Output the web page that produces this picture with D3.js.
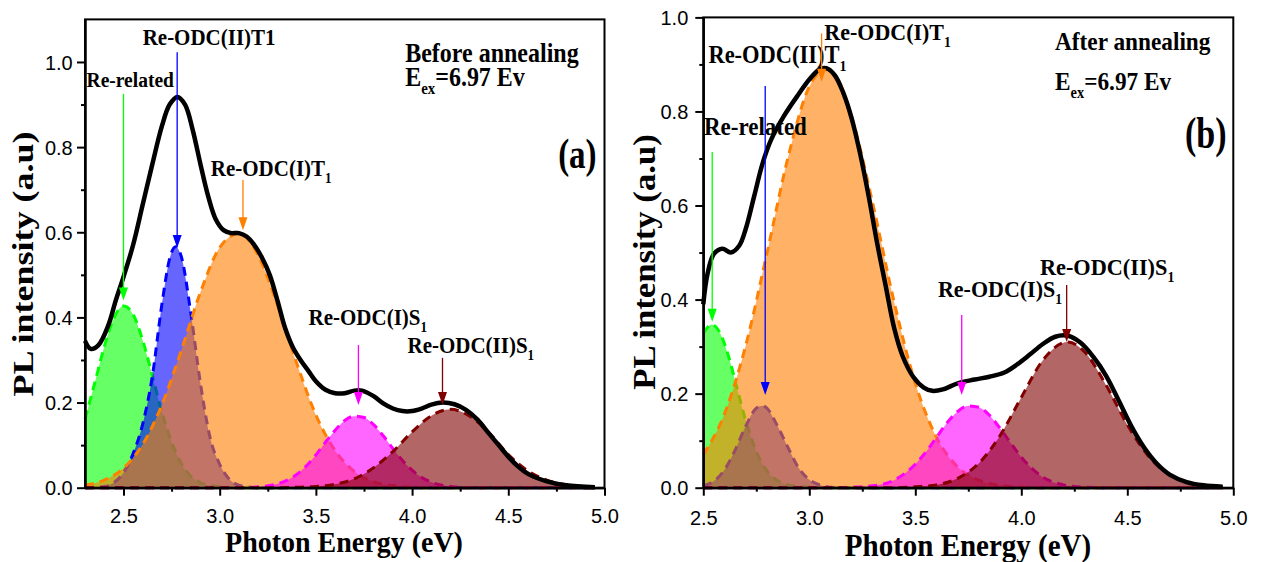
<!DOCTYPE html>
<html>
<head>
<meta charset="utf-8">
<script src="https://cdn.jsdelivr.net/npm/d3@7"></script>
<style>
  body { margin: 0; background: #fff; }
  svg { display: block; }
</style>
</head>
<body>
<svg id="chart" width="1261" height="562"></svg>
<script>
// ---------- Data: fitted PL components, [photon energy (eV), intensity (a.u.)] ----------

// (a) before annealing
const relatedA = [[2.30,0.161],[2.35,0.245],[2.40,0.331],[2.45,0.398],[2.50,0.427],[2.55,0.407],[2.60,0.346],[2.65,0.263],[2.70,0.177],[2.75,0.107],[2.80,0.057],[2.85,0.027],[2.90,0.012],[2.95,0.005],[3.00,0.002],[3.10,0],[4.95,0]];
const odc2T1A = [[2.30,0],[2.40,0.003],[2.45,0.012],[2.50,0.035],[2.55,0.08],[2.60,0.15],[2.65,0.262],[2.70,0.432],[2.74,0.538],[2.77,0.566],[2.80,0.544],[2.85,0.41],[2.90,0.245],[2.95,0.118],[3.00,0.055],[3.05,0.02],[3.10,0.006],[3.20,0],[4.95,0]];
const odc1T1A = [[2.30,0.006],[2.40,0.018],[2.50,0.046],[2.60,0.102],[2.70,0.195],[2.80,0.322],[2.90,0.459],[3.00,0.564],[3.10,0.597],[3.20,0.546],[3.30,0.430],[3.40,0.293],[3.50,0.171],[3.60,0.087],[3.70,0.038],[3.80,0.014],[3.90,0.005],[4.00,0.001],[4.10,0],[4.95,0]];
const odc1S1A = [[2.30,0],[3.10,0],[3.20,0.002],[3.30,0.009],[3.40,0.031],[3.45,0.051],[3.50,0.077],[3.55,0.107],[3.60,0.135],[3.65,0.158],[3.70,0.168],[3.75,0.165],[3.80,0.148],[3.85,0.122],[3.90,0.092],[3.95,0.064],[4.00,0.041],[4.05,0.024],[4.10,0.013],[4.20,0.003],[4.30,0],[4.95,0]];
const odc2S1A = [[2.30,0],[3.30,0],[3.40,0.001],[3.50,0.003],[3.60,0.008],[3.70,0.021],[3.80,0.047],[3.90,0.085],[4.00,0.131],[4.10,0.169],[4.20,0.184],[4.30,0.168],[4.40,0.129],[4.50,0.078],[4.60,0.040],[4.70,0.018],[4.80,0.007],[4.90,0.002],[4.95,0.001]];
const measuredA = [[2.30,0.345],[2.33,0.326],[2.37,0.335],[2.42,0.38],[2.46,0.44],[2.50,0.495],[2.55,0.57],[2.60,0.665],[2.65,0.76],[2.70,0.85],[2.74,0.90],[2.78,0.918],[2.82,0.90],[2.86,0.84],[2.90,0.76],[2.94,0.685],[2.98,0.63],[3.02,0.605],[3.06,0.598],[3.10,0.598],[3.14,0.59],[3.18,0.57],[3.22,0.54],[3.26,0.50],[3.30,0.44],[3.34,0.375],[3.38,0.33],[3.42,0.30],[3.46,0.275],[3.50,0.25],[3.55,0.23],[3.60,0.222],[3.65,0.222],[3.70,0.228],[3.74,0.228],[3.80,0.215],[3.85,0.198],[3.90,0.186],[3.95,0.18],[4.00,0.18],[4.05,0.186],[4.10,0.195],[4.16,0.20],[4.22,0.196],[4.28,0.183],[4.34,0.16],[4.40,0.127],[4.45,0.10],[4.50,0.073],[4.55,0.05],[4.60,0.033],[4.70,0.015],[4.80,0.006],[4.95,0.001]];

// (b) after annealing
const relatedB = [[2.50,0.328],[2.54,0.347],[2.58,0.328],[2.62,0.278],[2.66,0.21],[2.70,0.143],[2.75,0.077],[2.80,0.036],[2.85,0.015],[2.90,0.006],[3.00,0.001],[3.10,0],[4.95,0]];
const odc2T1B = [[2.50,0.004],[2.55,0.014],[2.60,0.038],[2.65,0.080],[2.70,0.131],[2.75,0.169],[2.78,0.174],[2.80,0.169],[2.85,0.131],[2.90,0.085],[2.95,0.042],[3.00,0.017],[3.05,0.006],[3.10,0.001],[3.20,0],[4.95,0]];
const odc1T1B = [[2.50,0.070],[2.60,0.157],[2.70,0.302],[2.80,0.498],[2.90,0.703],[3.00,0.853],[3.08,0.89],[3.15,0.853],[3.20,0.789],[3.30,0.603],[3.40,0.395],[3.50,0.222],[3.60,0.107],[3.70,0.044],[3.80,0.016],[3.90,0.005],[4.00,0.001],[4.10,0],[4.95,0]];
const odc1S1B = [[2.50,0],[3.10,0],[3.20,0.001],[3.30,0.004],[3.40,0.016],[3.50,0.050],[3.55,0.076],[3.60,0.107],[3.65,0.138],[3.70,0.162],[3.75,0.174],[3.80,0.171],[3.85,0.154],[3.90,0.126],[3.95,0.095],[4.00,0.065],[4.10,0.023],[4.20,0.006],[4.30,0.001],[4.40,0],[4.95,0]];
const odc2S1B = [[2.50,0],[3.40,0],[3.50,0.002],[3.60,0.006],[3.70,0.020],[3.80,0.052],[3.90,0.111],[4.00,0.192],[4.10,0.270],[4.22,0.31],[4.30,0.288],[4.40,0.218],[4.50,0.134],[4.60,0.067],[4.70,0.027],[4.80,0.009],[4.90,0.002],[4.95,0.001]];
const measuredB = [[2.50,0.39],[2.52,0.455],[2.55,0.497],[2.59,0.508],[2.63,0.500],[2.67,0.515],[2.70,0.55],[2.74,0.62],[2.78,0.69],[2.82,0.74],[2.88,0.79],[2.95,0.837],[3.00,0.868],[3.05,0.89],[3.08,0.892],[3.12,0.877],[3.16,0.84],[3.20,0.785],[3.24,0.71],[3.28,0.62],[3.32,0.52],[3.36,0.43],[3.40,0.34],[3.44,0.28],[3.49,0.236],[3.54,0.213],[3.58,0.206],[3.63,0.209],[3.70,0.222],[3.78,0.23],[3.85,0.236],[3.92,0.245],[3.98,0.262],[4.04,0.283],[4.10,0.305],[4.16,0.321],[4.22,0.323],[4.28,0.308],[4.34,0.278],[4.40,0.238],[4.46,0.185],[4.52,0.13],[4.58,0.085],[4.64,0.051],[4.70,0.028],[4.78,0.012],[4.86,0.005],[4.95,0.002]];

// Peak markers: arrow energy, arrow head tip and arrow tail (intensity units)
const markerEnergyA = [2.50, 2.779, 3.121, 3.721, 4.158];
const markerTipA    = [0.44, 0.563, 0.605, 0.194, 0.194];
const markerTailA   = [0.925, 1.023, 0.723, 0.335, 0.305];
const markerEnergyB = [2.542, 2.792, 3.058, 3.719, 4.214];
const markerTipB    = [0.353, 0.197, 0.863, 0.197, 0.31];
const markerTailB   = [0.714, 0.854, 0.966, 0.367, 0.431];

// Component names ("_" marks a subscript)
const peakLabelsA = ["Re-related", "Re-ODC(II)T1", "Re-ODC(I)T_1", "Re-ODC(I)S_1", "Re-ODC(II)S_1"];
const peakLabelsB = ["Re-related", "Re-ODC(II)T_1", "Re-ODC(I)T_1", "Re-ODC(I)S_1", "Re-ODC(II)S_1"];

// Axis ticks
const energyTicks = [2.5, 3.0, 3.5, 4.0, 4.5, 5.0];
const energyMinorTicks = [2.75, 3.25, 3.75, 4.25, 4.75];
const intensityTicks = [0, 0.2, 0.4, 0.6, 0.8, 1.0];
const intensityMinorTicks = [0.1, 0.3, 0.5, 0.7, 0.9];

// ---------- Drawing ----------
const SERIF = '"Liberation Serif","Times New Roman",serif';
const SANS = '"Liberation Sans",Arial,sans-serif';
const componentColors = ["#00ff00", "#0000ff", "#ff7f00", "#ff00ff", "#800000"];
const svg = d3.select("#chart");

// Bold serif text with "_x" / "_{xy}" subscripts, optionally stretched or rotated
function richText(g, str, x, y, size, opt = {}) {
  const sx = opt.sx || 1, sy = opt.sy || 1;
  const t = g.append("text")
    .attr("transform", `translate(${x},${y})${opt.rotate ? ` rotate(${opt.rotate})` : ""} scale(${sx},${sy})`)
    .attr("font-family", SERIF).attr("font-weight", "bold")
    .attr("font-size", size).attr("fill", "#000")
    .attr("text-anchor", opt.anchor || "start");
  const shift = size * 0.3;
  let offset = 0, last = 0, m;
  const add = (txt, sub) => {
    const target = sub ? shift : 0;
    t.append("tspan").attr("dy", target - offset)
      .attr("font-size", sub ? size * 0.62 : size).text(txt);
    offset = target;
  };
  const re = /_\{([^}]*)\}|_(.)/g;
  while ((m = re.exec(str)) !== null) {
    if (m.index > last) add(str.slice(last, m.index), false);
    add(m[1] !== undefined ? m[1] : m[2], true);
    last = re.lastIndex;
  }
  if (last < str.length) add(str.slice(last), false);
  return t;
}

function drawPanel(cfg) {
  const x = d3.scaleLinear().domain(cfg.xDomain).range(cfg.xRange);
  const y = d3.scaleLinear().domain(cfg.yDomain).range(cfg.yRange);
  const g = svg.append("g");
  const [x0, x1] = cfg.xRange, [yb, yt] = cfg.yRange;

  // Gaussian components: translucent fill + dashed outline
  const area = d3.area().x(d => x(d[0])).y0(y(0)).y1(d => y(d[1])).curve(d3.curveMonotoneX);
  const line = d3.line().x(d => x(d[0])).y(d => y(d[1])).curve(d3.curveMonotoneX);
  cfg.components.forEach((pts, i) => {
    g.append("path").datum(pts).attr("d", area)
      .attr("fill", componentColors[i]).attr("fill-opacity", 0.6);
    g.append("path").datum(pts).attr("d", line)
      .attr("fill", "none").attr("stroke", componentColors[i])
      .attr("stroke-width", 3).attr("stroke-dasharray", "9,6");
  });

  // Annotation text
  cfg.texts.forEach(tx => {
    richText(g, tx.text, x(tx.e), y(tx.v), tx.size, { anchor: tx.anchor, sy: tx.sy || 1.08 });
  });

  // Measured spectrum
  const specLine = d3.line().x(d => x(d[0])).y(d => y(d[1])).curve(d3.curveCatmullRom.alpha(0.5));
  g.append("path").datum(cfg.measured).attr("d", specLine)
    .attr("fill", "none").attr("stroke", "#000").attr("stroke-width", 4.5)
    .attr("stroke-linejoin", "round");

  // Peak marker arrows
  cfg.markerEnergy.forEach((e, i) => {
    const ax = x(e), tip = y(cfg.markerTip[i]), tail = y(cfg.markerTail[i]);
    const head = 13, hw = 4.5;
    g.append("line").attr("x1", ax).attr("x2", ax).attr("y1", tail).attr("y2", tip - head + 1)
      .attr("stroke", componentColors[i]).attr("stroke-width", 1.3);
    g.append("path")
      .attr("d", `M${ax - hw},${tip - head}L${ax + hw},${tip - head}L${ax},${tip}Z`)
      .attr("fill", componentColors[i]);
  });

  // Frame
  g.append("rect").attr("x", x0).attr("y", yt).attr("width", x1 - x0).attr("height", yb - yt)
    .attr("fill", "none").attr("stroke", "#000").attr("stroke-width", 2);

  // Axes
  const xAxis = g.append("g").attr("transform", `translate(0,${yb})`)
    .call(d3.axisBottom(x).tickValues(energyTicks).tickSize(8).tickSizeOuter(0).tickFormat(d3.format(".1f")));
  xAxis.selectAll("text").attr("y", cfg.xLabelOffset).attr("dy", 0)
    .attr("font-family", SANS).attr("font-size", 20).attr("fill", "#000");
  g.append("g").attr("transform", `translate(0,${yb})`)
    .call(d3.axisBottom(x).tickValues(energyMinorTicks).tickSize(4).tickSizeOuter(0).tickFormat(""));

  const yAxis = g.append("g").attr("transform", `translate(${x0},0)`)
    .call(d3.axisLeft(y).tickValues(intensityTicks).tickSize(8).tickSizeOuter(0).tickFormat(d3.format(".1f")));
  yAxis.selectAll("text").attr("x", -cfg.yLabelOffset).attr("dy", "0.36em")
    .attr("font-family", SANS).attr("font-size", 20).attr("fill", "#000");
  g.append("g").attr("transform", `translate(${x0},0)`)
    .call(d3.axisLeft(y).tickValues(intensityMinorTicks).tickSize(4).tickSizeOuter(0).tickFormat(""));

  g.selectAll(".domain").attr("stroke-width", 2);
  g.selectAll(".tick line").attr("stroke-width", 2);

  // Axis titles
  richText(g, "Photon Energy (eV)", cfg.xTitle[0], cfg.xTitle[1], cfg.xTitleSize, { anchor: "middle", sy: 1.08 });
  richText(g, "PL intensity (a.u)", cfg.yTitle[0], cfg.yTitle[1], cfg.yTitleSize, { anchor: "middle", rotate: -90, sx: cfg.yTitleStretch });
}

drawPanel({
  xDomain: [2.3, 5.0], xRange: [85, 604.5],
  yDomain: [0, 1.1], yRange: [487.7, 19.4],
  components: [relatedA, odc2T1A, odc1T1A, odc1S1A, odc2S1A],
  measured: measuredA,
  markerEnergy: markerEnergyA, markerTip: markerTipA, markerTail: markerTailA,
  texts: [
    { text: peakLabelsA[0], e: 2.535, v: 0.941, size: 19.5, anchor: "middle" },
    { text: peakLabelsA[1], e: 2.945, v: 1.040, size: 21, anchor: "middle" },
    { text: peakLabelsA[2], e: 2.954, v: 0.732, size: 21 },
    { text: peakLabelsA[3], e: 3.462, v: 0.382, size: 21 },
    { text: peakLabelsA[4], e: 3.976, v: 0.316, size: 21 },
    { text: "Before annealing", e: 3.964, v: 1.0007, size: 24, sy: 1.12 },
    { text: "E_{ex}=6.97 Ev", e: 3.964, v: 0.943, size: 24, sy: 1.12 },
    { text: "(a)", e: 4.759, v: 0.751, size: 33, sy: 1.3 }
  ],
  xLabelOffset: 35.3, yLabelOffset: 12.3,
  xTitle: [344, 552], xTitleSize: 28,
  yTitle: [33, 264], yTitleSize: 30, yTitleStretch: 1.2
});

drawPanel({
  xDomain: [2.5, 5.0], xRange: [703.3, 1233.3],
  yDomain: [0, 1.0], yRange: [487.7, 17.4],
  components: [relatedB, odc2T1B, odc1T1B, odc1S1B, odc2S1B],
  measured: measuredB,
  markerEnergy: markerEnergyB, markerTip: markerTipB, markerTail: markerTailB,
  texts: [
    { text: peakLabelsB[0], e: 2.503, v: 0.75, size: 23 },
    { text: peakLabelsB[1], e: 2.524, v: 0.902, size: 22.5 },
    { text: peakLabelsB[2], e: 3.071, v: 0.952, size: 22 },
    { text: peakLabelsB[3], e: 3.607, v: 0.406, size: 22 },
    { text: peakLabelsB[4], e: 4.088, v: 0.452, size: 22.3 },
    { text: "After annealing", e: 4.159, v: 0.93, size: 23.3, sy: 1.12 },
    { text: "E_{ex}=6.97 Ev", e: 4.159, v: 0.846, size: 23.3, sy: 1.12 },
    { text: "(b)", e: 4.772, v: 0.722, size: 34, sy: 1.3 }
  ],
  xLabelOffset: 37.3, yLabelOffset: 15,
  xTitle: [968, 556], xTitleSize: 29,
  yTitle: [655, 262], yTitleSize: 31, yTitleStretch: 1.12
});
</script>
</body>
</html>
